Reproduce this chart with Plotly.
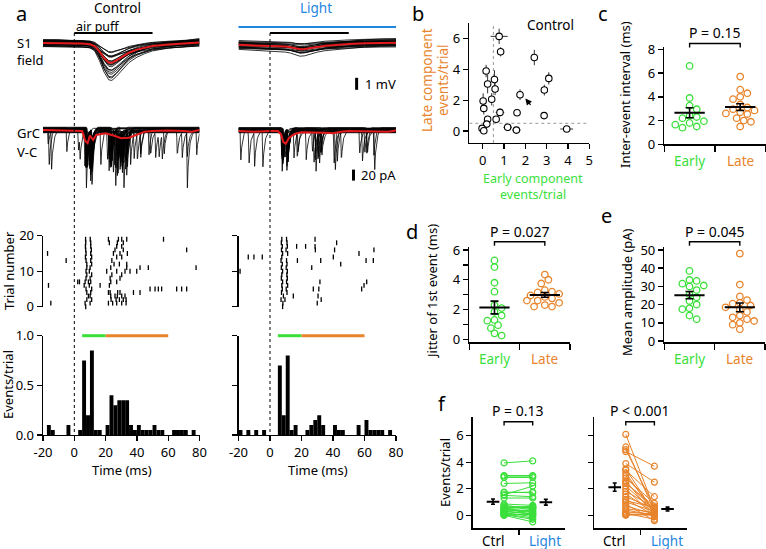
import numpy as np
import plotly.graph_objects as go

W, H = 766, 549
FONT = "Noto Sans"
GREEN = "#3BDF3B"
ORANGE = "#E8842C"
BLUE = "#1F86E0"
RED = "#E3191C"

# ---------------- panel a : stimulus and analysis windows (ms) ----------------
air_puff_ms = [0, 50]
early_window_ms = [5, 20]
late_window_ms = [20, 60]
time_ticks = [-20, 0, 20, 40, 60, 80]
time_ticklabels = ["-20", "0", "20", "40", "60", "80"]

# ---------------- panel a : S1 field potential (mV) ----------------
s1_t = [-20, -10, 0, 5, 10, 13, 16, 19, 22, 24, 27, 30, 35, 40, 45, 50, 60, 70, 80]
s1_ctrl_mean = [0.0, 0.0, -0.05, -0.05, -0.1, -0.25, -0.7, -1.25, -1.62, -1.65, -1.45, -1.2,
                -0.8, -0.55, -0.38, -0.25, -0.12, -0.05, 0.05]
s1_light_mean = [-0.15, -0.2, -0.22, -0.25, -0.3, -0.35, -0.45, -0.52, -0.5, -0.45, -0.38, -0.3,
                 -0.22, -0.18, -0.12, -0.08, -0.02, 0.02, 0.03]
s1_ctrl_offset = [0.28, -0.22, 0.15, -0.1, 0.05, 0.22, -0.28, 0.1, -0.05, 0.18,
                  -0.15, 0.0, 0.25, -0.3, 0.12, -0.08, 0.2, -0.2, 0.07, -0.12]
s1_ctrl_peak = [3.2, 2.9, 2.6, 2.5, 2.3, 2.2, 2.0, 1.9, 1.8, 1.7,
                1.6, 1.5, 1.4, 1.3, 1.2, 1.1, 1.0, 0.9, 0.8, 2.7]
s1_light_offset = [0.3, -0.3, 0.2, -0.15, 0.1, 0.25, -0.25, 0.05, -0.05, 0.15,
                   -0.2, 0.0, 0.32, -0.35, 0.12, -0.1, 0.18, -0.22, 0.08, -0.12]
s1_light_peak = [0.9, 0.8, 0.75, 0.7, 0.65, 0.6, 0.55, 0.5, 0.5, 0.45,
                 0.45, 0.4, 0.4, 0.35, 0.3, 0.3, 0.25, 0.2, 0.6, 0.7]

# ---------------- panel a : GrC voltage clamp (pA) ----------------
grc_t = [-20, -10, 0, 5, 7, 8.5, 10, 12, 14, 17, 20, 25, 30, 35, 40, 45, 50, 60, 70, 75, 80]
grc_ctrl_mean = [0, -1, -1, -2, -20, -24, -10, -18, -9, -7, -6, -10, -15, -14, -8, -3, -2, -1, -2, -3, 0]
grc_light_mean = [-2, -3, -2, -2, -8, -22, -25, -15, -10, -6, -4, -4, -5, -5, -6, -3, -2, -2, -2, -3, -1]
epsc_dt = [0, 0.4, 1.0, 1.8, 3.0, 4.5]
epsc_shape = [0, -1.0, -0.55, -0.25, -0.08, 0.0]
grc_ctrl_amp = [60, 75, 50, 65, 55, 45, 70, 40, 80, 55, 60, 50, 70, 45, 65, 30, 105, 55, 60, 50]
grc_ctrl_base = [3, -2, 4, -4, 1, -3, 2, -1, 5, -5, 0, 3, -2, 4, -3, 1, -4, 2, -1, 3]
grc_light_amp = [55, 60, 45, 55, 50, 60, 50, 45, 55, 50, 60, 45, 55, 50, 64, 45, 80, 50, 60, 45]
grc_light_base = [-2, 3, -4, 2, 0, -3, 4, -1, 2, -5, 1, 3, -2, 4, -3, 0, 2, -4, 1, 3]

# ---------------- panel a : raster (event times per trial, ms) ----------------
raster_ctrl = [
    [7.3],
    [-15, 6.9, 10.1, 21.8, 24.5, 27.1, 30.3, 33.1],
    [8.0, 11.1, 23.5, 26.7, 28.8, 31.3, 33.1],
    [9.0, 10.1, 23.3, 26.0, 27.5, 30.3, 32.4],
    [8.0, 10.5, 21.8, 22.9, 27.7, 29.2, 37.8, 42.0],
    [7.5, 11.1, 48.4, 51.6, 53.7, 55.8, 65.4, 68.6, 71.8],
    [-16.5, 6.3, 9.6, 16.5, 22.4],
    [2.2, 3.3, 6.9, 9.0, 10.5, 23.3, 27.1],
    [7.5, 10.1, 22.9, 29.2],
    [8.0, 11.1, 24.0, 30.3],
    [7.5, 9.6, 20.7, 27.1, 32.4, 35.6, 39.9],
    [8.0, 10.1, 23.3, 33.5, 42.0, 47.3, 77.8],
    [8.0, 11.1, 25.4, 28.8, 33.5],
    [-5.2, 7.5, 10.5, 24.0],
    [7.1, 11.1, 27.1, 30.3],
    [-17.1, 7.5, 10.5, 25.0, 29.2, 33.9],
    [7.3, 10.9, 26.0, 31.3, 71.8],
    [7.1, 10.5, 27.1, 30.3],
    [7.3, 10.5, 22.4, 27.5, 31.3],
    [7.2, 10.2, 21.8, 28.2, 30.3, 33.5, 57.0],
]
raster_light = [
    [8.0],
    [8.2, 30.0],
    [7.0, 9.5, 32.5],
    [8.5, 14.8, 30.5],
    [7.3, 10.8],
    [7.8, 10.3, 27.5, 31.0, 58.2],
    [7.5, 11.2, 59.7],
    [8.0, 10.5, 31.7, 61.4],
    [7.2, 11.0],
    [7.5, 10.7],
    [-19.0, 8.0, 11.0],
    [7.2, 10.3, 26.5],
    [7.8, 10.8, 44.9],
    [7.0, 10.5, 17.4, 32.2, 61.0, 65.6],
    [-13.8, -10.2, -4.9, 7.5, 40.2],
    [8.0, 11.2, 56.5],
    [7.3, 10.2, 28.8, 41.0, 66.0],
    [7.8, 11.0, 16.9, 22.6, 28.6],
    [7.2, 10.8, 42.3],
    [7.5, 10.5, 28.6],
]

# ---------------- panel a : PSTH (events/trial, 2.5 ms bins) ----------------
hist_bin_start = [-20, -17.5, -15, -12.5, -10, -7.5, -5, -2.5, 0, 2.5, 5, 7.5, 10, 12.5, 15, 17.5,
                  20, 22.5, 25, 27.5, 30, 32.5, 35, 37.5, 40, 42.5, 45, 47.5, 50, 52.5, 55, 57.5,
                  60, 62.5, 65, 67.5, 70, 72.5, 75, 77.5]
hist_ctrl = [0, 0.1, 0.05, 0, 0, 0, 0.1, 0, 0, 0.05, 0.75, 0.2, 0.85, 0.05, 0.05, 0,
             0.1, 0.4, 0.3, 0.35, 0.35, 0.35, 0.1, 0.05, 0.1, 0.05, 0.05, 0.05, 0.1, 0.05, 0.05, 0,
             0, 0.05, 0.05, 0.05, 0.05, 0, 0.05, 0]
hist_light = [0.05, 0, 0.05, 0, 0.05, 0, 0.05, 0, 0, 0, 0.7, 0.2, 0.8, 0.05, 0.1, 0,
              0, 0.05, 0.1, 0.15, 0.2, 0.1, 0, 0, 0.1, 0.05, 0.05, 0, 0, 0, 0.1, 0,
              0.15, 0.05, 0.05, 0.05, 0.05, 0, 0.05, 0]
hist_bin_width = 2.5

# ---------------- panel b ----------------
b_early = [0.77, 0.84, 2.42, 0.16, 0.55, 3.1, 0.23, 0.58, 2.89, 1.75, 0.42, 0.02,
           0.05, 0.81, 1.61, 2.88, 0.23, 0.63, 0.19, -0.03, 0.05, 1.17, 1.58, 3.94]
b_late = [6.15, 5.15, 4.78, 3.9, 3.35, 3.42, 3.05, 2.73, 2.66, 2.36, 2.06, 1.95,
          1.47, 1.21, 1.19, 1.0, 0.76, 0.76, 0.45, 0.17, 0.02, 0.24, 0.06, 0.13]
b_early_err = [0.4, 0.1, 0.1, 0.15, 0.1, 0.1, 0.1, 0.1, 0.1, 0.1, 0.1, 0.05,
               0.05, 0.2, 0.1, 0.15, 0.1, 0.1, 0.1, 0.05, 0.05, 0.2, 0.2, 0.3]
b_late_err = [0.5, 0.3, 0.5, 0.4, 0.6, 0.4, 0.6, 0.4, 0.35, 0.35, 0.4, 0.5,
              0.4, 0.25, 0.2, 0.15, 0.2, 0.1, 0.15, 0.1, 0.05, 0.05, 0.05, 0.05]
b_threshold = 0.5

# ---------------- panels c, d, e ----------------
c_early = [6.6, 3.9, 3.25, 2.95, 2.4, 2.3, 2.2, 1.95, 1.8, 1.5, 1.4, 1.65]
c_late = [5.7, 4.6, 4.3, 4.0, 3.8, 3.35, 3.1, 2.95, 2.85, 2.7, 2.6, 2.55, 2.2, 2.0, 1.9, 1.5]
d_early = [5.3, 4.85, 3.8, 3.2, 2.3, 2.1, 1.85, 1.6, 1.3, 1.25, 0.95, 0.75, 0.4, 0.25]
d_late = [4.35, 4.0, 3.75, 3.3, 3.2, 3.15, 3.05, 2.95, 2.85, 2.75, 2.6, 2.45, 2.3, 2.2, 2.2, 2.6]
e_early = [38.5, 33.5, 33, 31.5, 30.5, 30, 28, 25.5, 24, 22, 20, 18, 17.5, 14, 12]
e_late = [48, 31, 24.5, 22.5, 21, 20.5, 19.5, 18.5, 17.5, 16, 14, 13, 12, 11, 10, 9, 6.5]
p_texts = {"c": "P = 0.15", "d": "P = 0.027", "e": "P = 0.045", "f1": "P = 0.13", "f2": "P < 0.001"}

# ---------------- panel f (paired control / light) ----------------
f_early_ctrl = [3.95, 3.0, 2.85, 2.4, 1.7, 1.55, 1.3, 0.85, 0.7, 0.6, 0.5, 0.45, 0.4, 0.3, 0.25,
                0.2, 0.15, 0.1, 0.05, 0.0, 0.0, 0.6, 0.75, 0.35, 0.1, 0.5, 1.5, 2.95, 1.75]
f_early_light = [4.1, 3.0, 2.85, 2.45, 1.75, 2.2, 1.3, 0.75, 0.6, 0.55, 0.7, 0.2, 0.35, 0.1, 0.45,
                 -0.1, 0.3, 0.05, -0.3, -0.5, 0.15, 0.0, 0.5, 0.6, -0.2, 0.65, 1.4, 2.95, 1.7]
f_late_ctrl = [6.1, 5.15, 4.8, 4.95, 3.9, 3.5, 3.4, 3.2, 3.0, 2.8, 2.6, 2.4, 2.2, 2.0, 1.8,
               1.6, 1.4, 1.2, 1.0, 0.85, 0.7, 0.5, 0.4, 0.25, 0.15, 0.1, 0.05, 0.0, 1.1, 2.5]
f_late_light = [0.5, 0.3, 3.7, 0.6, 2.5, 0.2, 1.4, 0.1, 0.4, 0.9, 0.0, 0.7, 0.3, -0.1, 0.6,
                0.2, 0.5, 0.0, 0.3, -0.4, 0.1, 0.2, 0.0, 0.1, -0.3, 0.05, 0.0, 0.15, 0.6, 0.45]

# ======================= layout helpers =======================
AX = dict(showgrid=False, zeroline=False, showline=True, linecolor="black", linewidth=1.4,
          ticks="outside", ticklen=5, tickwidth=1.4, tickcolor="black", automargin=False,
          tickfont=dict(family=FONT, size=13, color="black"), fixedrange=True)
HID = dict(visible=False, fixedrange=True)

layout = dict(width=W, height=H, autosize=False,
              margin=dict(l=0, r=0, t=0, b=0, pad=0, autoexpand=False),
              paper_bgcolor="white", plot_bgcolor="rgba(0,0,0,0)", showlegend=False,
              font=dict(family=FONT, size=13, color="black"))
boxes = {}


def ref(i, a):
    return a if i == 1 else f"{a}{i}"


def add_axes(i, x0, x1, y0, y1, xr, yr, xkw, ykw):
    boxes[i] = (x0, x1, y0, y1, xr, yr)
    xa = dict(xkw)
    xa.update(domain=[x0 / W, x1 / W], range=xr, anchor=ref(i, "y"))
    ya = dict(ykw)
    ya.update(domain=[1 - y1 / H, 1 - y0 / H], range=yr, anchor=ref(i, "x"))
    layout["xaxis" if i == 1 else f"xaxis{i}"] = xa
    layout["yaxis" if i == 1 else f"yaxis{i}"] = ya


def to_px(i, x, y):
    x0, x1, y0, y1, xr, yr = boxes[i]
    px = x0 + (x - xr[0]) / (xr[1] - xr[0]) * (x1 - x0)
    py = y1 - (y - yr[0]) / (yr[1] - yr[0]) * (y1 - y0)
    return px, py


def PX(x):
    return x / W


def PY(y):
    return 1 - y / H


shapes = []
annots = []


def pline(x0, y0, x1, y1, color="black", width=1.4, dash=None):
    d = dict(type="line", xref="paper", yref="paper", x0=PX(x0), y0=PY(y0), x1=PX(x1), y1=PY(y1),
             line=dict(color=color, width=width))
    if dash:
        d["line"]["dash"] = dash
    shapes.append(d)


def text(x, y, s, size=13, color="black", xanchor="center", angle=0):
    annots.append(dict(x=PX(x), y=PY(y), xref="paper", yref="paper", text=s, showarrow=False,
                       xanchor=xanchor, yanchor="middle", textangle=angle,
                       font=dict(family=FONT, size=size, color=color)))


def bracket(xa, xb, ytop, ybot):
    shapes.append(dict(type="path", xref="paper", yref="paper",
                       path=f"M {PX(xa)},{PY(ybot)} L {PX(xa)},{PY(ytop)} L {PX(xb)},{PY(ytop)} L {PX(xb)},{PY(ybot)}",
                       line=dict(color="black", width=1.4)))


# axes geometry (pixels)
LX = (43, 199.5)
RX = (238.5, 396)
add_axes(1, *LX, 18, 100, [-20, 80], [-4.75, 2.083], HID, HID)
add_axes(2, *LX, 108, 205, [-20, 80], [-136.4, 40], HID, HID)
add_axes(3, *RX, 18, 100, [-20, 80], [-4.75, 2.083], HID, HID)
add_axes(4, *RX, 108, 205, [-20, 80], [-136.4, 40], HID, HID)
ras_y = dict(AX, tickvals=[0, 10, 20])
add_axes(5, *LX, 235.7, 306.7, [-20, 80], [0, 20], HID, ras_y)
add_axes(6, *RX, 235.7, 306.7, [-20, 80], [0, 20], HID, dict(ras_y, showticklabels=False))
hx = dict(AX, tickvals=time_ticks, ticktext=time_ticklabels)
hy = dict(AX, tickvals=[0, 0.5, 1.0], ticktext=["0.0", "0.5", "1.0"])
add_axes(7, *LX, 335.7, 435, [-20, 80], [0, 1], hx, hy)
add_axes(8, *RX, 335.7, 435, [-20, 80], [0, 1], hx, dict(hy, showticklabels=False))
add_axes(9, 469.3, 589.3, 23.3, 143, [-0.63, 5], [-0.78, 7],
         dict(AX, tickvals=[0, 1, 2, 3, 4, 5]), dict(AX, tickvals=[0, 2, 4, 6]))
catx = dict(AX, tickvals=[0, 1, 2], showticklabels=False, ticklen=6)
add_axes(10, 664.3, 765.5, 46.7, 144.3, [0, 2], [0, 8.22], catx, dict(AX, tickvals=[0, 2, 4, 6, 8]))
add_axes(11, 469.3, 570, 246.7, 342.3, [0, 2], [-0.2, 6.22], catx,
         dict(AX, tickvals=[0, 1, 2, 3, 4, 5, 6], ticktext=["0", "", "2", "", "4", "", "6"]))
add_axes(12, 664.3, 765, 246.7, 342.3, [0, 2], [-0.7, 51.8], catx,
         dict(AX, tickvals=[0, 10, 20, 30, 40, 50]))
fx = dict(AX, tickvals=[0], showticklabels=False)
fy = dict(AX, tickvals=[0, 2, 4, 6])
add_axes(13, 472.7, 565, 416.7, 528.3, [-1, 1], [-0.98, 7.43], fx, fy)
add_axes(14, 594.4, 686.7, 416.7, 528.3, [-1, 1], [-0.98, 7.43], fx, dict(fy, showticklabels=False))

traces = []


def add(tr, i):
    tr.update(xaxis=ref(i, "x"), yaxis=ref(i, "y"), showlegend=False, hoverinfo="skip")
    traces.append(tr)


# ---------------- panel a traces ----------------
def s1_lines(mean, offsets, peaks):
    m = np.array(mean)
    mpk = -m.min()
    xs, ys = [], []
    for off, pk in zip(offsets, peaks):
        xs += list(s1_t) + [None]
        ys += list(off + m * pk / mpk) + [None]
    return xs, ys


grid = np.linspace(-20, 80, 401)


def grc_lines(raster, amps, bases):
    xs, ys = [], []
    for ev, a, b in zip(raster, amps, bases):
        y = np.full_like(grid, float(b))
        for te in ev:
            y += a * np.interp(grid - te, epsc_dt, epsc_shape, left=0, right=0)
        xs += list(grid) + [None]
        ys += list(y) + [None]
    return xs, ys


for i_s1, i_grc, mean_s1, off_s1, pk_s1, mean_grc, ras, amp, base in [
    (1, 2, s1_ctrl_mean, s1_ctrl_offset, s1_ctrl_peak, grc_ctrl_mean, raster_ctrl, grc_ctrl_amp, grc_ctrl_base),
    (3, 4, s1_light_mean, s1_light_offset, s1_light_peak, grc_light_mean, raster_light, grc_light_amp, grc_light_base),
]:
    xs, ys = s1_lines(mean_s1, off_s1, pk_s1)
    add(go.Scatter(x=xs, y=ys, mode="lines", line=dict(color="black", width=0.8)), i_s1)
    add(go.Scatter(x=s1_t, y=mean_s1, mode="lines", line=dict(color=RED, width=2)), i_s1)
    xs, ys = grc_lines(ras, amp, base)
    add(go.Scatter(x=xs, y=ys, mode="lines", line=dict(color="black", width=0.8)), i_grc)
    add(go.Scatter(x=grc_t, y=mean_grc, mode="lines", line=dict(color=RED, width=2)), i_grc)

# raster
for i, ras in [(5, raster_ctrl), (6, raster_light)]:
    xs, ys = [], []
    for trial, ev in enumerate(ras):
        xs += ev
        ys += [trial] * len(ev)
    add(go.Scatter(x=xs, y=ys, mode="markers", cliponaxis=False,
                   marker=dict(symbol="line-ns", size=3.5, line=dict(color="black", width=1.3))), i)

# histograms
centers = [b + hist_bin_width / 2 for b in hist_bin_start]
for i, hv in [(7, hist_ctrl), (8, hist_light)]:
    add(go.Bar(x=centers, y=hv, width=hist_bin_width, marker=dict(color="black", line=dict(width=0))), i)

# window bars / air puff / light bar / dotted t=0 line
for ih, itop in [(7, 1), (8, 3)]:
    xa, y_top = to_px(ih, early_window_ms[0], 1.0)
    xb, _ = to_px(ih, early_window_ms[1], 1.0)
    xc, _ = to_px(ih, late_window_ms[1], 1.0)
    pline(xa, y_top, xb, y_top, GREEN, 3)
    pline(xb, y_top, xc, y_top, ORANGE, 3)
    p0, _ = to_px(itop, air_puff_ms[0], 0)
    p1, _ = to_px(itop, air_puff_ms[1], 0)
    pline(p0, 33, p1, 33, "black", 2)
    _, ybase = to_px(ih, 0, 0)
    pline(p0, 33, p0, ybase, "black", 1, "dot")
l0, _ = to_px(3, -20, 0)
l1, _ = to_px(3, 80, 0)
pline(l0, 27, l1, 27, BLUE, 2)

# scale bars (1 mV and 20 pA) in the light-condition axes
sx, sy0 = to_px(3, 55, -2.9)
_, sy1 = to_px(3, 55, -3.9)
pline(sx, sy0, sx, sy1, "black", 3)
text(sx + 6, (sy0 + sy1) / 2, "1 mV", 13, xanchor="left")
sx2, sy2 = to_px(4, 53, -72)
_, sy3 = to_px(4, 53, -92)
pline(sx2, sy2, sx2, sy3, "black", 3)
text(sx2 + 6, (sy2 + sy3) / 2, "20 pA", 13, xanchor="left")

# ---------------- panel b ----------------
add(go.Scatter(x=b_early, y=b_late, mode="markers",
               error_x=dict(type="data", array=b_early_err, color="#333", thickness=1, width=0),
               error_y=dict(type="data", array=b_late_err, color="#333", thickness=1, width=0),
               marker=dict(symbol="circle", size=6.5, color="white", line=dict(color="black", width=1.1))), 9)
shapes.append(dict(type="line", xref="x9", yref="y9", x0=b_threshold, x1=b_threshold, y0=-0.78, y1=7,
                   line=dict(color="#999", width=1, dash="dot"), layer="below"))
shapes.append(dict(type="line", xref="x9", yref="y9", x0=-0.63, x1=5, y0=b_threshold, y1=b_threshold,
                   line=dict(color="#999", width=1, dash="dot"), layer="below"))
annots.append(dict(x=2.0, y=2.12, ax=2.3, ay=1.6, xref="x9", yref="y9", axref="x9", ayref="y9",
                   text="", showarrow=True, arrowhead=2, arrowsize=1, arrowwidth=1.3, arrowcolor="black"))


# ---------------- panels c, d, e ----------------
def swarm(vals, i, diam=6.5):
    x0, x1, y0, y1, xr, yr = boxes[i]
    ppy = (y1 - y0) / (yr[1] - yr[0])
    ppx = (x1 - x0) / (xr[1] - xr[0])
    placed, offs = [], []
    for v in vals:
        yv = v * ppy
        chosen = 0.0
        found = False
        for k in range(0, 15):
            for s in ([0] if k == 0 else [k, -k]):
                o = s * diam * 0.55
                if all((yv - py) ** 2 + (o - po) ** 2 >= (diam * 0.95) ** 2 for py, po in placed):
                    chosen, found = o, True
                    break
            if found:
                break
        placed.append((yv, chosen))
        offs.append(chosen / ppx)
    return offs


def group_plot(i, vals, center, color):
    offs = swarm(vals, i)
    add(go.Scatter(x=[center + o for o in offs], y=vals, mode="markers", cliponaxis=False,
                   marker=dict(symbol="circle-open", size=6.5, color=color, line=dict(width=1.3))), i)
    m = float(np.mean(vals))
    sem = float(np.std(vals, ddof=1) / np.sqrt(len(vals)))
    add(go.Scatter(x=[center - 0.3, center + 0.3], y=[m, m], mode="lines",
                   line=dict(color="black", width=2)), i)
    add(go.Scatter(x=[center], y=[m], mode="markers", marker=dict(size=1, color="black"),
                   error_y=dict(type="data", array=[sem], color="black", thickness=1.6, width=4)), i)


for i, ev, lv, key, ptxt_y, br_y in [(10, c_early, c_late, "c", 33, 43.5),
                                       (11, d_early, d_late, "d", 231.7, 241.7),
                                       (12, e_early, e_late, "e", 231.7, 241.7)]:
    group_plot(i, ev, 0.5, GREEN)
    group_plot(i, lv, 1.5, ORANGE)
    xa, ybot = to_px(i, 0.5, 0)
    xb, _ = to_px(i, 1.5, 0)
    bracket(xa, xb, br_y, br_y + 4)
    text((xa + xb) / 2, ptxt_y, p_texts[key], 14)
    _, axis_bottom = to_px(i, 0, boxes[i][5][0])
    text(xa, axis_bottom + 17, "Early", 13.5, GREEN)
    text(xb, axis_bottom + 17, "Late", 13.5, ORANGE)

# ---------------- panel f ----------------
F_CTRL_X, F_LIGHT_X = -0.32, 0.30
F_MEAN_CTRL_X, F_MEAN_LIGHT_X = -0.56, 0.585
for i, cv, lv, color, key in [(13, f_early_ctrl, f_early_light, GREEN, "f1"),
                              (14, f_late_ctrl, f_late_light, ORANGE, "f2")]:
    xs, ys = [], []
    for a, b in zip(cv, lv):
        xs += [F_CTRL_X, F_LIGHT_X, None]
        ys += [a, b, None]
    add(go.Scatter(x=xs, y=ys, mode="lines", line=dict(color=color, width=1)), i)
    add(go.Scatter(x=[F_CTRL_X] * len(cv) + [F_LIGHT_X] * len(lv), y=list(cv) + list(lv),
                   mode="markers", cliponaxis=False,
                   marker=dict(symbol="circle-open", size=6, color=color, line=dict(width=1.2))), i)
    for xm, v in [(F_MEAN_CTRL_X, cv), (F_MEAN_LIGHT_X, lv)]:
        m = float(np.mean(v))
        sem = float(np.std(v, ddof=1) / np.sqrt(len(v)))
        add(go.Scatter(x=[xm], y=[m], mode="markers",
                       marker=dict(symbol="line-ew", size=9, line=dict(color="black", width=2)),
                       error_y=dict(type="data", array=[sem], color="black", thickness=1.6, width=2)), i)
    xa, ybot = to_px(i, F_CTRL_X, -0.98)
    xb, _ = to_px(i, F_LIGHT_X, -0.98)
    bracket(xa, xb, 421.7, 425.5)
    text((xa + xb) / 2, 410.7, p_texts[key], 14)
    xc, _ = to_px(i, -0.57, 0)
    xl, _ = to_px(i, 0.57, 0)
    text(xc, 541, "Ctrl", 13.5)
    text(xl, 541, "Light", 13.5, BLUE)

# ---------------- texts ----------------
text(21, 14, "a", 20)
text(117, 8, "Control", 13.5)
text(74, 26, "air puff", 12.5, xanchor="left")
text(316, 8, "Light", 13.5, BLUE)
text(15, 43, "S1", 13, xanchor="left")
text(15, 60, "field", 13, xanchor="left")
text(15, 133, "GrC", 13, xanchor="left")
text(15, 152, "V-C", 13, xanchor="left")
text(9, 271, "Trial number", 13, angle=-90)
text(8, 385, "Events/trial", 13, angle=-90)
text(122, 470, "Time (ms)", 13)
text(318, 470, "Time (ms)", 13)
text(418, 14, "b", 20)
text(550, 25, "Control", 13.5)
text(427, 80, "Late component", 13.5, ORANGE, angle=-90)
text(443, 80, "events/trial", 13.5, ORANGE, angle=-90)
text(533, 178.5, "Early component", 12.5, GREEN)
text(533, 195, "events/trial", 12.5, GREEN)
text(603, 14, "c", 20)
text(625, 95, "Inter-event interval (ms)", 13, angle=-90)
text(412, 232, "d", 20)
text(432, 292, "Jitter of 1st event (ms)", 13, angle=-90)
text(606, 215, "e", 20)
text(627, 292, "Mean amplitude (pA)", 13, angle=-90)
text(442, 403, "f", 20)
text(445, 472, "Events/trial", 13, angle=-90)

layout["shapes"] = shapes
layout["annotations"] = annots
fig = go.Figure(data=traces, layout=layout)
fig.write_html("out.html", config={"displayModeBar": False, "staticPlot": True},
               post_script="document.body.style.margin='0px';document.body.style.padding='0px';")
